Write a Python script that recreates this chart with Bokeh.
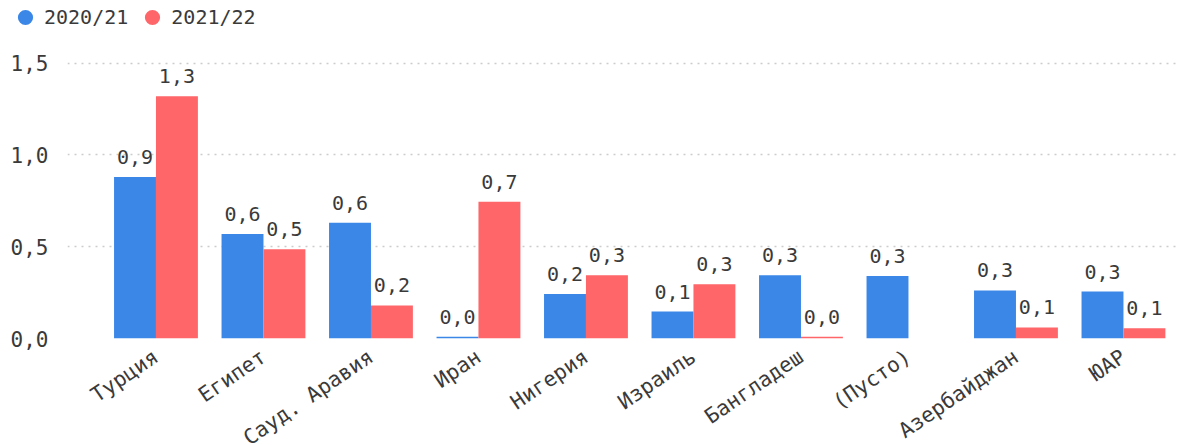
import math
from bokeh.plotting import figure
from bokeh.models import (ColumnDataSource, Range1d, FixedTicker, CustomJSTickFormatter,
                          Legend, LegendItem)
from bokeh.transform import dodge
from bokeh.core.properties import value
from bokeh.embed import file_html
from bokeh.resources import INLINE

categories = ["Турция", "Египет", "Сауд. Аравия", "Иран", "Нигерия", "Израиль",
              "Бангладеш", "(Пусто)", "Азербайджан", "ЮАР"]
series_names = ["2020/21", "2021/22"]
values_2020_21 = [0.88, 0.57, 0.63, 0.01, 0.243, 0.147, 0.345, 0.34, 0.262, 0.256]
values_2021_22 = [1.32, 0.486, 0.18, 0.745, 0.344, 0.295, 0.01, float("nan"), 0.06, 0.056]
y_ticks = [0.0, 0.5, 1.0, 1.5]

BLUE = "#3a87e8"
RED = "#fe6669"
MONO = "DejaVu Sans Mono"
TXT = "#3a3a3a"

LEG_H = 40
p = figure(frame_width=1111, frame_height=279,
           min_border_left=67, min_border_top=59 - LEG_H, min_border_right=0, min_border_bottom=99,
           x_range=Range1d(-0.823, 9.512), y_range=Range1d(0, 1.52),
           output_backend="svg", toolbar_location=None, tools="")
p.outline_line_color = None
p.background_fill_color = "white"
p.border_fill_color = "white"

def fmt(v):
    return f"{v:.1f}".replace(".", ",")

def make_source(vals):
    idx = [i for i, v in enumerate(vals) if not math.isnan(v)]
    tops = [vals[i] for i in idx]
    return ColumnDataSource(dict(idx=idx, top=tops, label=[fmt(t) for t in tops]))

src_a = make_source(values_2020_21)
src_b = make_source(values_2021_22)

W = 0.39
for src, off, col in [(src_a, -W / 2, BLUE), (src_b, W / 2, RED)]:
    p.vbar(x=dodge("idx", off), top="top", bottom=0, width=W, source=src,
           fill_color=col, line_color=None)
    p.text(x=dodge("idx", off), y="top", text="label", source=src,
           text_font=value(MONO), text_font_size=value("20px"), text_color=TXT,
           text_align="center", text_baseline="bottom", y_offset=-13)

# axes
p.xaxis.ticker = FixedTicker(ticks=list(range(len(categories))))
p.xaxis.major_label_overrides = {i: c for i, c in enumerate(categories)}
p.xaxis.major_label_orientation = 0.6
p.xaxis.major_label_text_font = MONO
p.xaxis.major_label_text_font_size = "21px"
p.xaxis.major_label_text_color = TXT
p.xaxis.major_label_standoff = 10
p.xaxis.axis_line_color = None
p.xaxis.major_tick_line_color = None
p.xaxis.minor_tick_line_color = None

p.yaxis.ticker = FixedTicker(ticks=y_ticks)
p.yaxis.formatter = CustomJSTickFormatter(code="return tick.toFixed(1).replace('.', ',');")
p.yaxis.major_label_text_font = MONO
p.yaxis.major_label_text_font_size = "21px"
p.yaxis.major_label_text_color = TXT
p.yaxis.major_label_standoff = 13
p.yaxis.axis_line_color = None
p.yaxis.major_tick_line_color = None
p.yaxis.minor_tick_line_color = None

p.xgrid.grid_line_color = None
p.ygrid.grid_line_color = "#cccccc"
p.ygrid.grid_line_dash = "2 5"
p.ygrid.grid_line_width = 1.5

# legend strip: a separate small figure rendered above the chart
lf = figure(width=1178, height=LEG_H, min_border=0,
            x_range=Range1d(0, 1), y_range=Range1d(0, 1),
            x_axis_location=None, y_axis_location=None,
            output_backend="svg", toolbar_location=None, tools="")
lf.grid.visible = False
lf.outline_line_color = None
lf.border_fill_color = "white"
r_a = lf.scatter(x=[-10], y=[-10], marker="circle", size=13, fill_color=BLUE, line_color=None)
r_b = lf.scatter(x=[-10], y=[-10], marker="circle", size=13, fill_color=RED, line_color=None)
legend = Legend(items=[LegendItem(label=series_names[0], renderers=[r_a]),
                       LegendItem(label=series_names[1], renderers=[r_b])],
                orientation="horizontal", location=(6, LEG_H - 36),
                border_line_color=None, background_fill_alpha=0,
                padding=0, margin=0, spacing=5, glyph_width=38, glyph_height=38,
                label_standoff=-6, label_height=38,
                label_text_font=MONO, label_text_font_size="20px",
                label_text_color=TXT, label_text_baseline="middle")
lf.add_layout(legend)

open("out.html", "w").write(file_html([lf, p], INLINE))
